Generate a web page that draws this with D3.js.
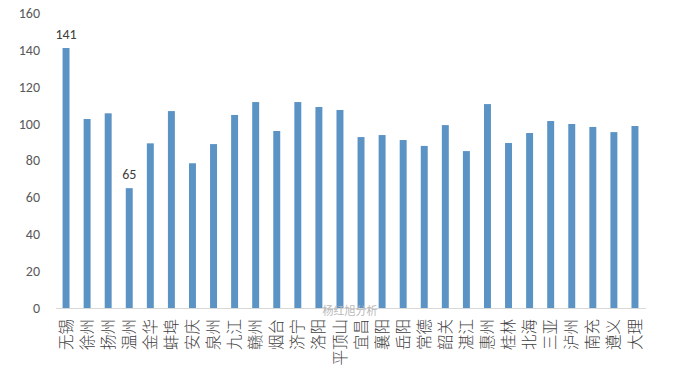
<!DOCTYPE html>
<html><head><meta charset="utf-8">
<script src="https://cdn.jsdelivr.net/npm/d3@7"></script>
<style>body{margin:0;background:#fff;} svg{display:block;}</style>
</head><body>
<script>
const categories = ["无锡","徐州","扬州","温州","金华","蚌埠","安庆","泉州","九江","赣州","烟台","济宁","洛阳","平顶山","宜昌","襄阳","岳阳","常德","韶关","湛江","惠州","桂林","北海","三亚","泸州","南充","遵义","大理"];
const values = [141,102.5,105.6,65,89.3,106.8,78.5,88.9,104.7,111.7,96,111.7,109,107.4,92.7,93.8,91.1,87.9,99.2,85.1,110.6,89.5,94.9,101.4,99.8,98.2,95.4,98.7];
const labeled = ["无锡","温州"];
const labelText = ["141","65"];
const yTicks = [0,20,40,60,80,100,120,140,160];

const W = 673, H = 371;
const svg = d3.select("body").append("svg").attr("width", W).attr("height", H);
const x = d3.scaleBand().domain(categories).range([55.5, 645.5]).paddingInner(0.67).paddingOuter(0.335);
const y = d3.scaleLinear().domain([0,160]).range([308, 13]);
const font = "'Noto Sans CJK SC','Microsoft YaHei',sans-serif";
const numFont = "Calibri,'Liberation Sans',Arial,sans-serif";

// y axis labels
const ya = svg.append("g").attr("transform","translate(40,0)")
  .call(d3.axisLeft(y).tickValues(yTicks).tickSize(0).tickPadding(0));
ya.select(".domain").remove();
ya.selectAll("text").attr("font-family",numFont).attr("font-size",14).attr("fill","#595959");

// bars
svg.selectAll("rect.bar").data(categories).enter().append("rect")
  .attr("x", d => x(d)).attr("width", x.bandwidth())
  .attr("y", (d,i) => y(values[i])).attr("height", (d,i) => y(0) - y(values[i]))
  .attr("fill", "#5b93c5");

// x axis
const xa = svg.append("g").attr("transform","translate(0,308)")
  .call(d3.axisBottom(x).tickSize(0).tickFormat(""));
xa.select(".domain").attr("stroke","#d9d9d9").attr("stroke-width",1);

// rotated category labels (reading bottom to top)
svg.append("g").selectAll("text").data(categories).enter().append("text")
  .attr("transform", d => `translate(${x(d) + x.bandwidth()/2},319) rotate(-90)`)
  .attr("text-anchor","end").attr("dy","0.36em")
  .attr("font-family",font).attr("font-size",15.5).attr("font-weight",300).attr("fill","#404040")
  .text(d => d);

// data labels
labeled.forEach((c,i) => {
  const v = values[categories.indexOf(c)];
  svg.append("text").attr("x", x(c)+x.bandwidth()/2).attr("y", y(v) - 9)
    .attr("text-anchor","middle").attr("font-family",numFont)
    .attr("font-size",14).attr("fill","#404040").text(labelText[i]);
});

// watermark
svg.append("text").attr("x",350).attr("y",315).attr("text-anchor","middle")
  .attr("font-family",font).attr("font-size",11).attr("fill","#b8b8b8").text("杨红旭分析");
</script>
</body></html>
